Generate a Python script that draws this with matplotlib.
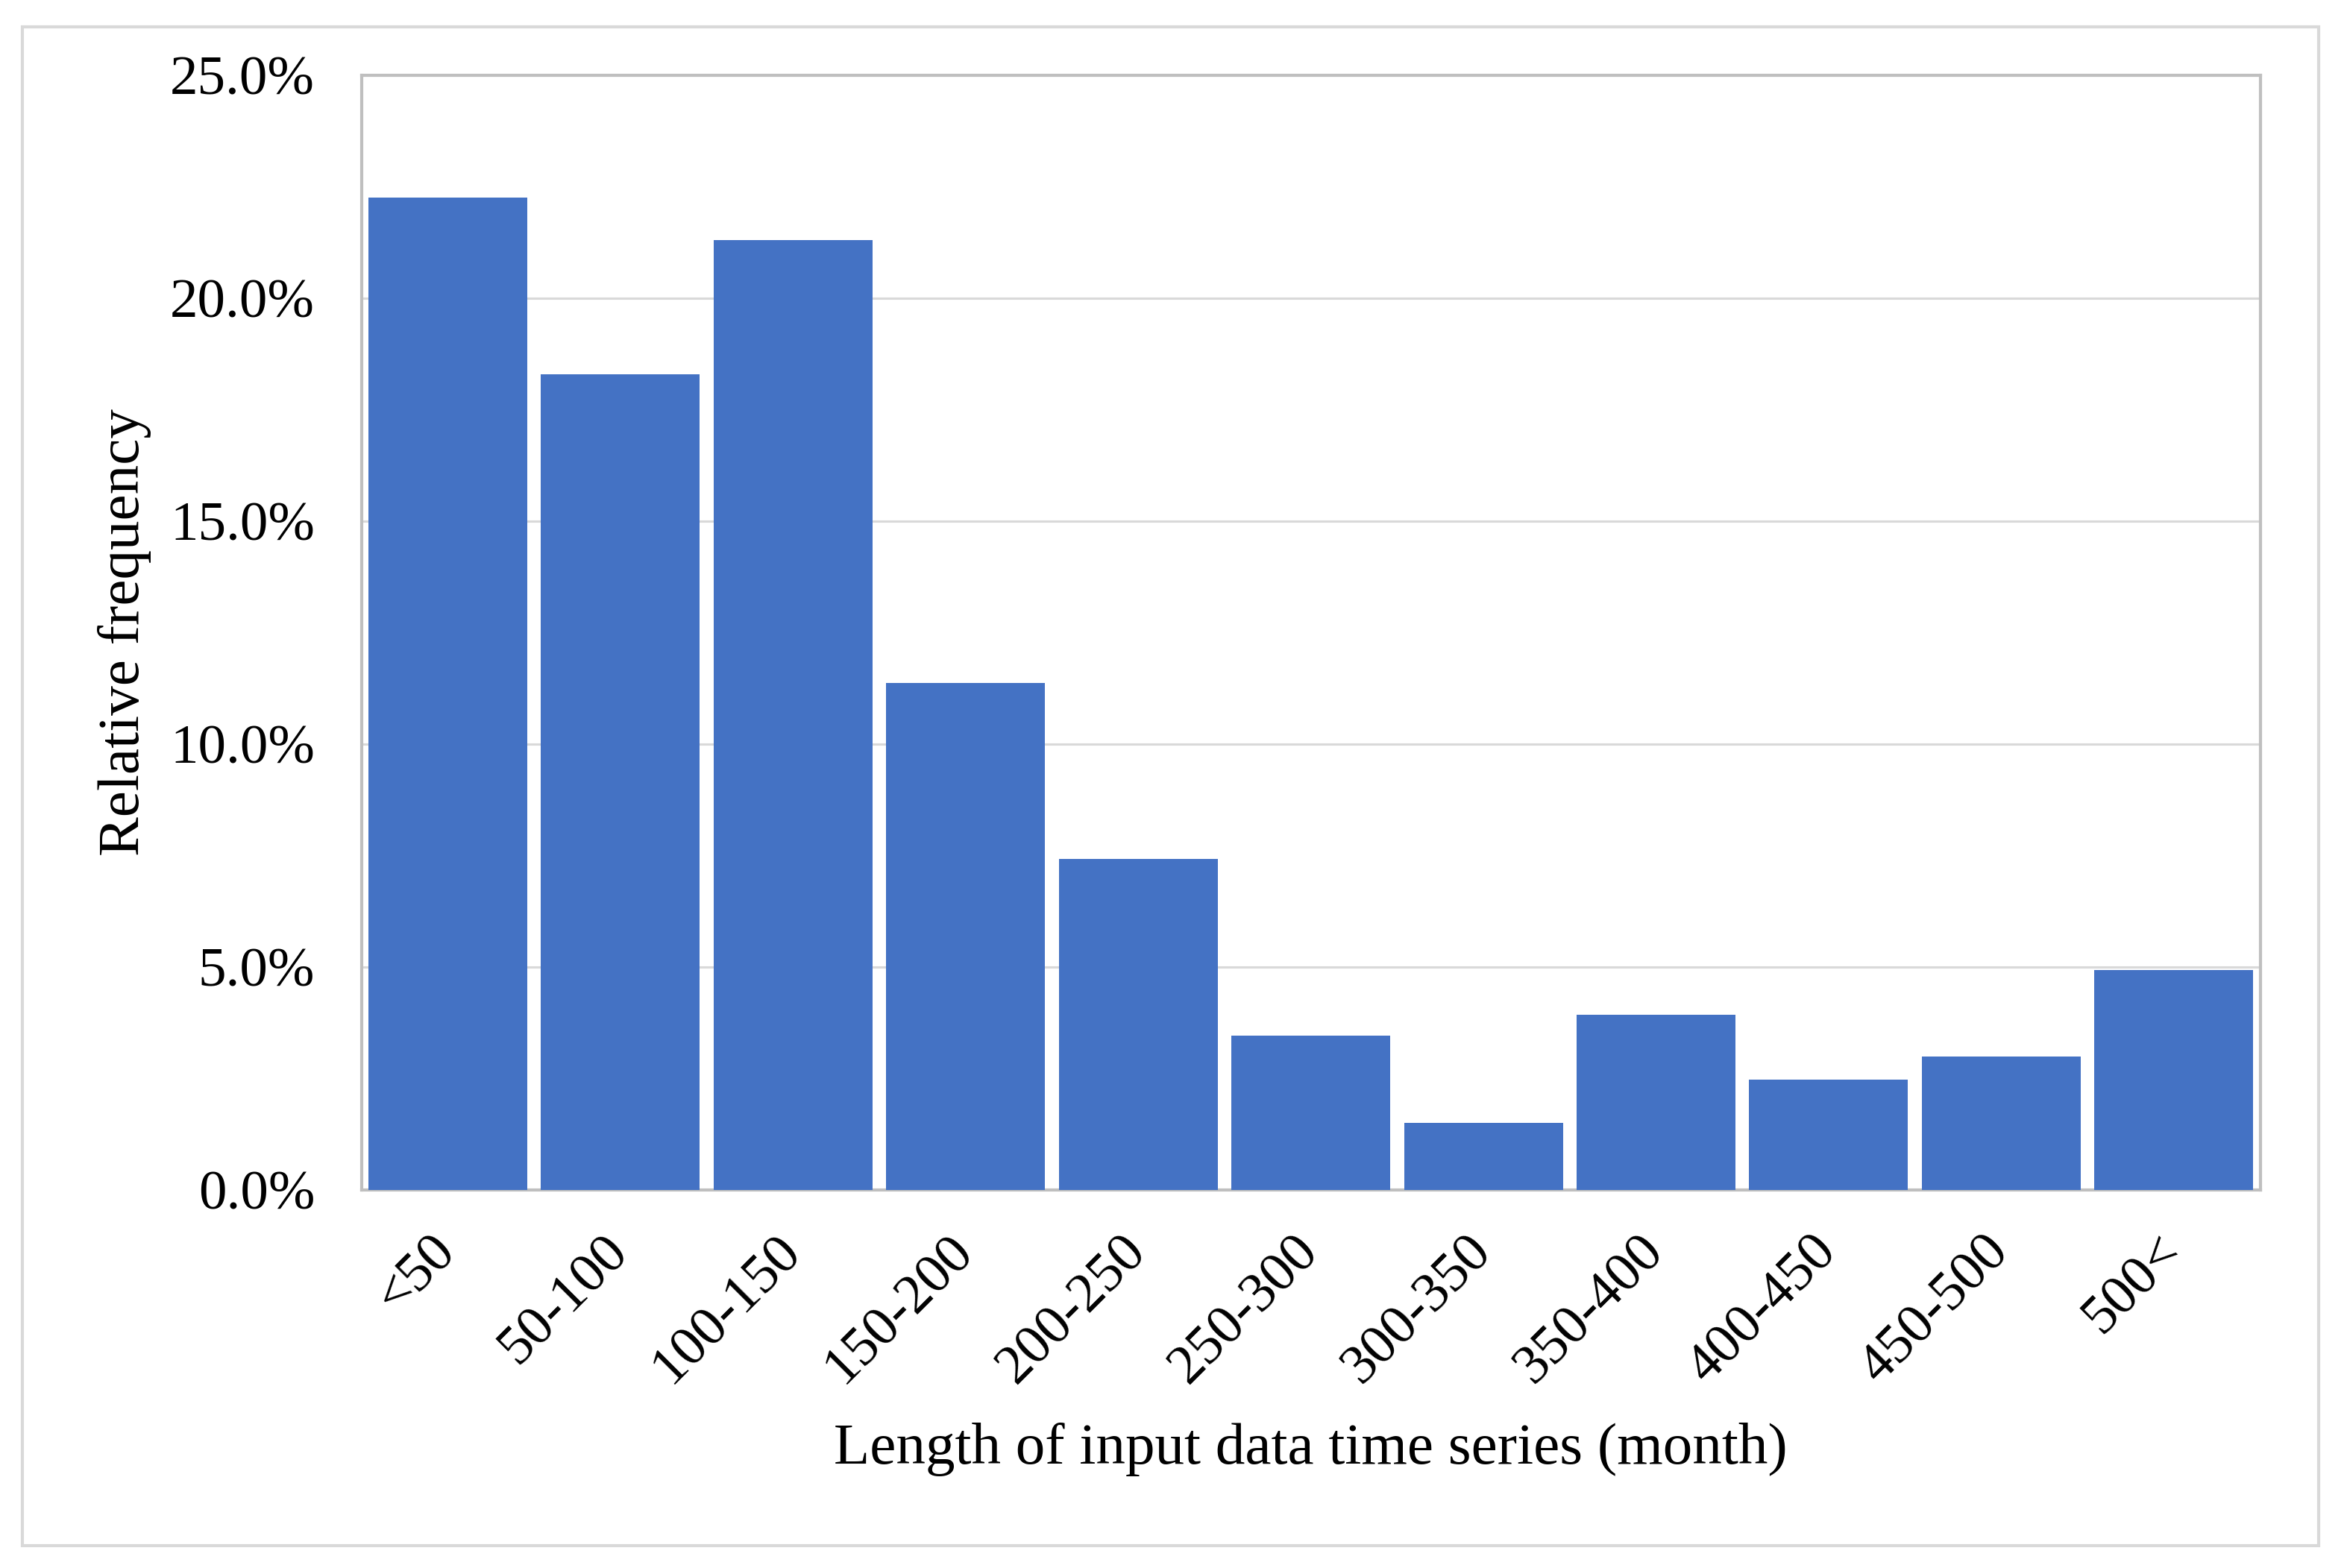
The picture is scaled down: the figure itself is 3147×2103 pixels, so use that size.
import matplotlib.pyplot as plt
from matplotlib.patches import Rectangle
from matplotlib.ticker import FuncFormatter

# data
categories = ["<50", "50-100", "100-150", "150-200", "200-250", "250-300",
              "300-350", "350-400", "400-450", "450-500", "500<"]
rel_freq = [22.25, 18.3, 21.3, 11.38, 7.42, 3.46, 1.51, 3.93, 2.48, 2.99, 4.93]
y_ticks = [0, 5, 10, 15, 20, 25]

plt.rcParams['font.family'] = ['Liberation Serif', 'DejaVu Serif']

fig = plt.figure(figsize=(31.47, 21.03), dpi=100)
ax = fig.add_axes([0.154, 0.241, 0.809, 0.711])

x = list(range(len(categories)))
ax.bar(x, rel_freq, width=0.92, color="#4472C4", zorder=3)

ax.set_xlim(-0.5, len(categories) - 0.5)
ax.set_ylim(0, 25)
ax.set_yticks(y_ticks)
ax.yaxis.set_major_formatter(FuncFormatter(lambda v, p: f"{v:.1f}%"))
ax.grid(axis="y", color="#d9d9d9", linewidth=2.2, zorder=0)

ax.set_xticks(x)
ax.set_xticklabels(categories, rotation=45, ha="right", va="center",
                   rotation_mode="anchor")
ax.tick_params(axis="both", length=0, labelsize=54)
ax.tick_params(axis="y", pad=45)
ax.tick_params(axis="x", pad=52)

for s in ax.spines.values():
    s.set_color("#bfbfbf")
    s.set_linewidth(3)

ax.set_xlabel("Length of input data time series (month)", fontsize=57,
              labelpad=28)
ax.set_ylabel("Relative frequency", fontsize=57, labelpad=18)

# outer chart border
fig.patches.append(Rectangle((30 / 3147, 1 - 2073 / 2103), (3109 - 30) / 3147,
                             (2073 - 36) / 2103, transform=fig.transFigure,
                             fill=False, edgecolor="#d9d9d9", linewidth=3))

plt.savefig("out.png", dpi=100)
plt.close()
